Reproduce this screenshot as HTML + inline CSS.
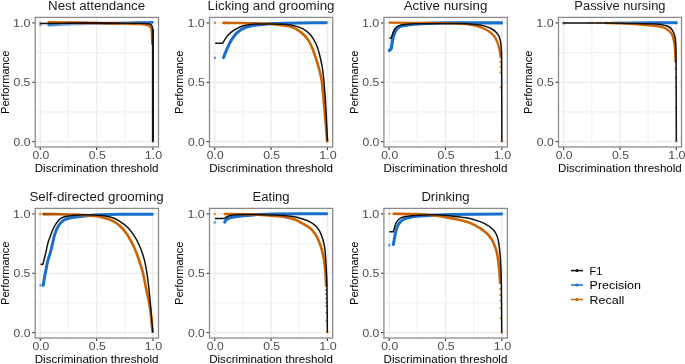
<!DOCTYPE html><html><head><meta charset="utf-8"><style>html,body{margin:0;padding:0;background:#fff;}svg{display:block;}text{font-family:"Liberation Sans", sans-serif;}svg{will-change:transform;}</style></head><body>
<svg width="685" height="364" viewBox="0 0 685 364">
<rect width="685" height="364" fill="#fff"/>
<defs><linearGradient id="p1dark" gradientUnits="userSpaceOnUse" x1="60" y1="0" x2="128" y2="0"><stop offset="0" stop-color="#2a0a00" stop-opacity="0"/><stop offset="0.3" stop-color="#2a0a00" stop-opacity="0.85"/><stop offset="0.7" stop-color="#2a0a00" stop-opacity="0.85"/><stop offset="1" stop-color="#2a0a00" stop-opacity="0"/></linearGradient><linearGradient id="p1blue" gradientUnits="userSpaceOnUse" x1="48" y1="0" x2="153" y2="0"><stop offset="0" stop-color="#1a6fcc" stop-opacity="0.85"/><stop offset="0.3" stop-color="#1a6fcc" stop-opacity="0.35"/><stop offset="0.55" stop-color="#1a6fcc" stop-opacity="0.15"/><stop offset="0.8" stop-color="#1a6fcc" stop-opacity="0.6"/><stop offset="1" stop-color="#1a6fcc" stop-opacity="1"/></linearGradient><linearGradient id="p4blue" gradientUnits="userSpaceOnUse" x1="610" y1="0" x2="650" y2="0"><stop offset="0" stop-color="#1a6fcc" stop-opacity="0.25"/><stop offset="1" stop-color="#1a6fcc" stop-opacity="1"/></linearGradient><linearGradient id="p5or" gradientUnits="userSpaceOnUse" x1="43" y1="0" x2="70" y2="0"><stop offset="0" stop-color="#9a4800"/><stop offset="0.45" stop-color="#b05400"/><stop offset="1" stop-color="#cc6300"/></linearGradient></defs>
<line x1="68.42" y1="17.40" x2="68.42" y2="147.00" stroke="#f1f1f1" stroke-width="1.2"/>
<line x1="35.20" y1="111.97" x2="158.50" y2="111.97" stroke="#f1f1f1" stroke-width="1.2"/>
<line x1="124.77" y1="17.40" x2="124.77" y2="147.00" stroke="#f1f1f1" stroke-width="1.2"/>
<line x1="35.20" y1="52.62" x2="158.50" y2="52.62" stroke="#f1f1f1" stroke-width="1.2"/>
<line x1="40.25" y1="17.40" x2="40.25" y2="147.00" stroke="#ebebeb" stroke-width="1.3"/>
<line x1="35.20" y1="141.65" x2="158.50" y2="141.65" stroke="#ebebeb" stroke-width="1.3"/>
<line x1="96.60" y1="17.40" x2="96.60" y2="147.00" stroke="#ebebeb" stroke-width="1.3"/>
<line x1="35.20" y1="82.30" x2="158.50" y2="82.30" stroke="#ebebeb" stroke-width="1.3"/>
<line x1="152.95" y1="17.40" x2="152.95" y2="147.00" stroke="#ebebeb" stroke-width="1.3"/>
<line x1="35.20" y1="22.95" x2="158.50" y2="22.95" stroke="#ebebeb" stroke-width="1.3"/>
<path d="M48.70,25.00 C50.58,24.93 56.23,24.72 60.00,24.60 C65.22,24.43 73.33,24.22 80.00,24.00 C86.67,23.78 93.33,23.52 100.00,23.30 C106.67,23.08 114.17,22.85 120.00,22.70 C125.00,22.57 130.00,22.46 135.00,22.40 C140.38,22.33 149.42,22.32 152.30,22.30" fill="none" stroke="url(#p1blue)" stroke-width="2.8" stroke-linecap="round" stroke-linejoin="round"/>
<path d="M48.70,22.30 C52.25,22.32 62.90,22.31 70.00,22.40 C77.72,22.50 87.50,22.72 95.00,22.90 C101.67,23.06 109.17,23.33 115.00,23.50 C120.00,23.64 125.83,23.80 130.00,23.90 C133.33,23.98 137.50,24.00 140.00,24.10 C141.67,24.17 143.67,24.32 145.00,24.50 C146.02,24.64 147.17,24.87 148.00,25.20 C148.74,25.50 149.47,25.95 150.00,26.50 C150.53,27.05 150.96,27.76 151.20,28.50 C151.50,29.42 151.69,30.82 151.80,32.00 C151.95,33.58 152.02,36.00 152.10,38.00 C152.18,40.00 152.27,43.00 152.30,44.00" fill="none" stroke="#cc6300" stroke-width="2.4" stroke-linecap="round" stroke-linejoin="round"/>
<circle cx="40.15" cy="22.70" r="1.3" fill="#cc6300" fill-opacity="0.65"/>
<circle cx="152.85" cy="141.65" r="1.3" fill="#cc6300" fill-opacity="0.65"/>
<circle cx="40.40" cy="25.00" r="1.35" fill="#1a6fcc" fill-opacity="0.62"/>
<path d="M40.15,23.40 L47.00,23.40 C54.17,23.38 75.67,23.32 90.00,23.30 C105.50,23.28 130.67,23.28 140.00,23.30 C142.00,23.30 144.50,23.32 146.00,23.40 C147.01,23.46 148.18,23.60 149.00,23.80 C149.67,23.96 150.40,24.23 150.90,24.60 C151.38,24.95 151.76,25.46 152.00,26.00 C152.28,26.65 152.48,27.65 152.60,28.50 C152.74,29.50 152.85,30.83 152.85,32.00 C152.89,50.86 152.85,123.38 152.85,141.65" fill="none" stroke="#111111" stroke-width="1.5" stroke-linecap="butt" stroke-linejoin="round"/>
<path d="M60,23.0 L128,23.2" stroke="url(#p1dark)" stroke-width="2.6" fill="none"/>
<line x1="152.85" y1="29" x2="152.85" y2="141.2" stroke="#111" stroke-width="2.0"/>
<rect x="35.20" y="17.40" width="123.30" height="129.60" fill="none" stroke="#8a8a8a" stroke-width="1.3"/>
<line x1="32.30" y1="141.65" x2="34.60" y2="141.65" stroke="#333333" stroke-width="1.1"/>
<line x1="40.25" y1="147.60" x2="40.25" y2="149.90" stroke="#333333" stroke-width="1.1"/>
<line x1="32.30" y1="82.30" x2="34.60" y2="82.30" stroke="#333333" stroke-width="1.1"/>
<line x1="96.60" y1="147.60" x2="96.60" y2="149.90" stroke="#333333" stroke-width="1.1"/>
<line x1="32.30" y1="22.95" x2="34.60" y2="22.95" stroke="#333333" stroke-width="1.1"/>
<line x1="152.95" y1="147.60" x2="152.95" y2="149.90" stroke="#333333" stroke-width="1.1"/>
<text x="30.40" y="145.70" font-size="11.4" text-anchor="end" fill="#4d4d4d" textLength="16.87" lengthAdjust="spacingAndGlyphs">0.0</text>
<text x="40.85" y="159.30" font-size="11.4" text-anchor="middle" fill="#4d4d4d" textLength="16.87" lengthAdjust="spacingAndGlyphs">0.0</text>
<text x="30.40" y="86.35" font-size="11.4" text-anchor="end" fill="#4d4d4d" textLength="17.00" lengthAdjust="spacingAndGlyphs">0.5</text>
<text x="97.20" y="159.30" font-size="11.4" text-anchor="middle" fill="#4d4d4d" textLength="17.00" lengthAdjust="spacingAndGlyphs">0.5</text>
<text x="30.40" y="27.00" font-size="11.4" text-anchor="end" fill="#4d4d4d" textLength="17.40" lengthAdjust="spacingAndGlyphs">1.0</text>
<text x="153.55" y="159.30" font-size="11.4" text-anchor="middle" fill="#4d4d4d" textLength="17.40" lengthAdjust="spacingAndGlyphs">1.0</text>
<text x="96.60" y="171.50" font-size="10.4" text-anchor="middle" fill="#000" textLength="123.74" lengthAdjust="spacingAndGlyphs">Discrimination threshold</text>
<text x="0.00" y="0.00" font-size="10.4" text-anchor="middle" fill="#000" textLength="63.27" lengthAdjust="spacingAndGlyphs" transform="translate(8.90,82.30) rotate(-90)">Performance</text>
<text x="96.60" y="9.90" font-size="12.5" text-anchor="middle" fill="#1a1a1a" textLength="97.13" lengthAdjust="spacingAndGlyphs">Nest attendance</text>
<line x1="242.87" y1="17.40" x2="242.87" y2="147.00" stroke="#f1f1f1" stroke-width="1.2"/>
<line x1="209.50" y1="111.97" x2="332.70" y2="111.97" stroke="#f1f1f1" stroke-width="1.2"/>
<line x1="299.22" y1="17.40" x2="299.22" y2="147.00" stroke="#f1f1f1" stroke-width="1.2"/>
<line x1="209.50" y1="52.62" x2="332.70" y2="52.62" stroke="#f1f1f1" stroke-width="1.2"/>
<line x1="214.70" y1="17.40" x2="214.70" y2="147.00" stroke="#ebebeb" stroke-width="1.3"/>
<line x1="209.50" y1="141.65" x2="332.70" y2="141.65" stroke="#ebebeb" stroke-width="1.3"/>
<line x1="271.05" y1="17.40" x2="271.05" y2="147.00" stroke="#ebebeb" stroke-width="1.3"/>
<line x1="209.50" y1="82.30" x2="332.70" y2="82.30" stroke="#ebebeb" stroke-width="1.3"/>
<line x1="327.40" y1="17.40" x2="327.40" y2="147.00" stroke="#ebebeb" stroke-width="1.3"/>
<line x1="209.50" y1="22.95" x2="332.70" y2="22.95" stroke="#ebebeb" stroke-width="1.3"/>
<path d="M223.50,57.70 C224.07,56.27 225.65,51.92 226.90,49.10 C228.20,46.18 229.67,42.87 231.30,40.20 C232.85,37.66 234.77,35.03 236.70,33.10 C238.51,31.29 240.59,29.69 242.90,28.60 C245.43,27.40 248.83,26.54 251.90,25.90 C255.18,25.22 259.02,24.87 262.60,24.50 C266.28,24.12 270.19,23.76 274.00,23.60 C280.23,23.33 291.33,23.02 300.00,22.90 C308.72,22.77 321.92,22.86 326.30,22.85" fill="none" stroke="#1a6fcc" stroke-width="3.0" stroke-linecap="round" stroke-linejoin="round"/>
<path d="M223.40,22.90 C226.17,22.92 234.73,22.93 240.00,23.00 C245.00,23.06 250.00,23.14 255.00,23.30 C260.17,23.47 266.50,23.68 271.00,24.00 C274.68,24.26 278.52,24.68 282.00,25.20 C285.32,25.69 288.77,25.95 291.90,27.10 C295.03,28.25 298.13,30.02 300.80,32.10 C303.47,34.18 305.97,36.88 307.90,39.60 C309.81,42.28 311.11,45.37 312.40,48.40 C313.75,51.57 314.90,55.17 316.00,58.60 C317.18,62.30 318.52,66.70 319.50,70.60 C320.45,74.37 321.41,78.15 321.90,82.00 C322.73,88.57 323.66,100.66 324.50,110.00 C325.38,119.87 326.75,136.00 327.20,141.20" fill="none" stroke="#cc6300" stroke-width="2.6" stroke-linecap="round" stroke-linejoin="round"/>
<circle cx="214.90" cy="22.90" r="1.3" fill="#cc6300" fill-opacity="0.65"/>
<circle cx="214.90" cy="57.90" r="1.35" fill="#1a6fcc" fill-opacity="0.62"/>
<path d="M215.20,43.30 L222.50,43.30 C223.23,42.18 225.43,38.45 226.90,36.60 C228.19,34.97 229.68,33.49 231.30,32.20 C233.08,30.78 235.37,29.20 237.60,28.10 C239.83,27.00 242.25,26.15 244.70,25.60 C247.67,24.93 251.81,24.33 255.40,24.10 C259.78,23.82 266.57,23.88 271.00,23.90 C274.67,23.91 278.52,23.98 282.00,24.20 C285.31,24.41 288.66,24.51 291.90,25.20 C295.33,25.93 299.48,26.98 302.60,28.60 C305.61,30.16 308.37,32.37 310.60,34.90 C312.83,37.43 314.57,40.64 316.00,43.80 C317.48,47.07 318.53,50.87 319.50,54.50 C320.53,58.37 321.51,62.79 322.20,67.00 C322.95,71.58 323.56,76.98 324.00,82.00 C324.63,89.17 325.47,100.66 326.00,110.00 C326.57,119.90 327.17,136.17 327.40,141.40" fill="none" stroke="#111111" stroke-width="1.5" stroke-linecap="butt" stroke-linejoin="round"/>
<rect x="209.50" y="17.40" width="123.20" height="129.60" fill="none" stroke="#8a8a8a" stroke-width="1.3"/>
<line x1="206.60" y1="141.65" x2="208.90" y2="141.65" stroke="#333333" stroke-width="1.1"/>
<line x1="214.70" y1="147.60" x2="214.70" y2="149.90" stroke="#333333" stroke-width="1.1"/>
<line x1="206.60" y1="82.30" x2="208.90" y2="82.30" stroke="#333333" stroke-width="1.1"/>
<line x1="271.05" y1="147.60" x2="271.05" y2="149.90" stroke="#333333" stroke-width="1.1"/>
<line x1="206.60" y1="22.95" x2="208.90" y2="22.95" stroke="#333333" stroke-width="1.1"/>
<line x1="327.40" y1="147.60" x2="327.40" y2="149.90" stroke="#333333" stroke-width="1.1"/>
<text x="204.85" y="145.70" font-size="11.4" text-anchor="end" fill="#4d4d4d" textLength="16.87" lengthAdjust="spacingAndGlyphs">0.0</text>
<text x="215.30" y="159.30" font-size="11.4" text-anchor="middle" fill="#4d4d4d" textLength="16.87" lengthAdjust="spacingAndGlyphs">0.0</text>
<text x="204.85" y="86.35" font-size="11.4" text-anchor="end" fill="#4d4d4d" textLength="17.00" lengthAdjust="spacingAndGlyphs">0.5</text>
<text x="271.65" y="159.30" font-size="11.4" text-anchor="middle" fill="#4d4d4d" textLength="17.00" lengthAdjust="spacingAndGlyphs">0.5</text>
<text x="204.85" y="27.00" font-size="11.4" text-anchor="end" fill="#4d4d4d" textLength="17.40" lengthAdjust="spacingAndGlyphs">1.0</text>
<text x="328.00" y="159.30" font-size="11.4" text-anchor="middle" fill="#4d4d4d" textLength="17.40" lengthAdjust="spacingAndGlyphs">1.0</text>
<text x="271.05" y="171.50" font-size="10.4" text-anchor="middle" fill="#000" textLength="123.74" lengthAdjust="spacingAndGlyphs">Discrimination threshold</text>
<text x="0.00" y="0.00" font-size="10.4" text-anchor="middle" fill="#000" textLength="63.27" lengthAdjust="spacingAndGlyphs" transform="translate(183.35,82.30) rotate(-90)">Performance</text>
<text x="271.05" y="9.90" font-size="12.5" text-anchor="middle" fill="#1a1a1a" textLength="126.94" lengthAdjust="spacingAndGlyphs">Licking and grooming</text>
<line x1="417.32" y1="17.40" x2="417.32" y2="147.00" stroke="#f1f1f1" stroke-width="1.2"/>
<line x1="383.90" y1="111.97" x2="507.40" y2="111.97" stroke="#f1f1f1" stroke-width="1.2"/>
<line x1="473.68" y1="17.40" x2="473.68" y2="147.00" stroke="#f1f1f1" stroke-width="1.2"/>
<line x1="383.90" y1="52.62" x2="507.40" y2="52.62" stroke="#f1f1f1" stroke-width="1.2"/>
<line x1="389.15" y1="17.40" x2="389.15" y2="147.00" stroke="#ebebeb" stroke-width="1.3"/>
<line x1="383.90" y1="141.65" x2="507.40" y2="141.65" stroke="#ebebeb" stroke-width="1.3"/>
<line x1="445.50" y1="17.40" x2="445.50" y2="147.00" stroke="#ebebeb" stroke-width="1.3"/>
<line x1="383.90" y1="82.30" x2="507.40" y2="82.30" stroke="#ebebeb" stroke-width="1.3"/>
<line x1="501.85" y1="17.40" x2="501.85" y2="147.00" stroke="#ebebeb" stroke-width="1.3"/>
<line x1="383.90" y1="22.95" x2="507.40" y2="22.95" stroke="#ebebeb" stroke-width="1.3"/>
<path d="M389.40,50.50 C389.70,50.15 390.88,49.26 391.20,48.40 C391.65,47.18 391.80,44.93 392.10,43.20 C392.40,41.45 392.62,39.55 393.00,37.90 C393.36,36.34 393.87,34.63 394.40,33.30 C394.88,32.11 395.52,30.88 396.20,29.90 C396.85,28.97 397.60,28.05 398.50,27.40 C399.40,26.75 400.52,26.33 401.60,26.00 C402.85,25.62 404.52,25.32 406.00,25.10 C408.07,24.80 411.33,24.42 414.00,24.20 C417.60,23.90 423.06,23.46 427.60,23.30 C433.60,23.09 442.53,22.99 450.00,22.95 C462.32,22.89 492.92,22.95 501.50,22.95" fill="none" stroke="#1a6fcc" stroke-width="3.3" stroke-linecap="round" stroke-linejoin="round"/>
<path d="M389.60,22.70 C396.33,22.73 419.93,22.80 430.00,22.90 C436.67,22.97 444.67,23.13 450.00,23.30 C454.00,23.43 458.67,23.68 462.00,23.90 C464.67,24.07 467.62,24.27 470.00,24.60 C472.12,24.90 474.23,25.34 476.30,25.90 C478.38,26.47 480.60,27.22 482.50,28.00 C484.29,28.74 486.06,29.57 487.70,30.60 C489.35,31.63 491.08,32.90 492.40,34.20 C493.65,35.44 494.72,36.92 495.60,38.40 C496.48,39.87 497.11,41.49 497.70,43.10 C498.30,44.75 498.78,46.55 499.20,48.30 C499.63,50.12 500.05,52.55 500.30,54.00 C500.47,54.99 500.63,56.50 500.70,57.00" fill="none" stroke="#cc6300" stroke-width="2.3" stroke-linecap="round" stroke-linejoin="round"/>
<circle cx="500.40" cy="62.00" r="1.0" fill="#cc6300" fill-opacity="0.8"/>
<circle cx="500.50" cy="67.00" r="1.0" fill="#cc6300" fill-opacity="0.8"/>
<circle cx="500.60" cy="72.50" r="1.0" fill="#cc6300" fill-opacity="0.8"/>
<circle cx="500.80" cy="87.60" r="1.0" fill="#cc6300" fill-opacity="0.8"/>
<circle cx="501.85" cy="141.20" r="1.3" fill="#cc6300" fill-opacity="0.65"/>
<path d="M389.50,38.30 L391.00,38.30 C391.18,37.78 391.72,36.23 392.10,35.20 C392.52,34.08 393.05,32.63 393.50,31.60 C393.89,30.71 394.22,29.78 394.80,29.00 C395.45,28.13 396.38,27.05 397.40,26.40 C398.42,25.75 399.69,25.38 400.90,25.10 C402.33,24.77 404.29,24.58 406.00,24.40 C408.18,24.17 411.32,23.78 414.00,23.70 C419.67,23.53 432.00,23.42 440.00,23.40 C447.33,23.38 457.00,23.52 462.00,23.60 C464.67,23.64 467.34,23.71 470.00,23.90 C472.73,24.10 475.78,24.38 478.40,24.80 C480.86,25.19 483.45,25.70 485.70,26.40 C487.84,27.07 490.08,27.95 491.90,29.00 C493.63,30.00 495.38,31.40 496.60,32.70 C497.71,33.88 498.56,35.31 499.20,36.80 C499.87,38.35 500.28,40.23 500.60,42.00 C500.95,43.92 501.14,46.19 501.30,48.30 C501.47,50.47 501.59,52.76 501.60,55.00 C501.69,70.52 501.81,127.00 501.85,141.40" fill="none" stroke="#111111" stroke-width="1.5" stroke-linecap="butt" stroke-linejoin="round"/>
<rect x="383.90" y="17.40" width="123.50" height="129.60" fill="none" stroke="#8a8a8a" stroke-width="1.3"/>
<line x1="381.00" y1="141.65" x2="383.30" y2="141.65" stroke="#333333" stroke-width="1.1"/>
<line x1="389.15" y1="147.60" x2="389.15" y2="149.90" stroke="#333333" stroke-width="1.1"/>
<line x1="381.00" y1="82.30" x2="383.30" y2="82.30" stroke="#333333" stroke-width="1.1"/>
<line x1="445.50" y1="147.60" x2="445.50" y2="149.90" stroke="#333333" stroke-width="1.1"/>
<line x1="381.00" y1="22.95" x2="383.30" y2="22.95" stroke="#333333" stroke-width="1.1"/>
<line x1="501.85" y1="147.60" x2="501.85" y2="149.90" stroke="#333333" stroke-width="1.1"/>
<text x="379.30" y="145.70" font-size="11.4" text-anchor="end" fill="#4d4d4d" textLength="16.87" lengthAdjust="spacingAndGlyphs">0.0</text>
<text x="389.75" y="159.30" font-size="11.4" text-anchor="middle" fill="#4d4d4d" textLength="16.87" lengthAdjust="spacingAndGlyphs">0.0</text>
<text x="379.30" y="86.35" font-size="11.4" text-anchor="end" fill="#4d4d4d" textLength="17.00" lengthAdjust="spacingAndGlyphs">0.5</text>
<text x="446.10" y="159.30" font-size="11.4" text-anchor="middle" fill="#4d4d4d" textLength="17.00" lengthAdjust="spacingAndGlyphs">0.5</text>
<text x="379.30" y="27.00" font-size="11.4" text-anchor="end" fill="#4d4d4d" textLength="17.40" lengthAdjust="spacingAndGlyphs">1.0</text>
<text x="502.45" y="159.30" font-size="11.4" text-anchor="middle" fill="#4d4d4d" textLength="17.40" lengthAdjust="spacingAndGlyphs">1.0</text>
<text x="445.50" y="171.50" font-size="10.4" text-anchor="middle" fill="#000" textLength="123.74" lengthAdjust="spacingAndGlyphs">Discrimination threshold</text>
<text x="0.00" y="0.00" font-size="10.4" text-anchor="middle" fill="#000" textLength="63.27" lengthAdjust="spacingAndGlyphs" transform="translate(357.80,82.30) rotate(-90)">Performance</text>
<text x="445.50" y="9.90" font-size="12.5" text-anchor="middle" fill="#1a1a1a" textLength="83.63" lengthAdjust="spacingAndGlyphs">Active nursing</text>
<line x1="591.77" y1="17.40" x2="591.77" y2="147.00" stroke="#f1f1f1" stroke-width="1.2"/>
<line x1="558.50" y1="111.97" x2="681.50" y2="111.97" stroke="#f1f1f1" stroke-width="1.2"/>
<line x1="648.12" y1="17.40" x2="648.12" y2="147.00" stroke="#f1f1f1" stroke-width="1.2"/>
<line x1="558.50" y1="52.62" x2="681.50" y2="52.62" stroke="#f1f1f1" stroke-width="1.2"/>
<line x1="563.60" y1="17.40" x2="563.60" y2="147.00" stroke="#ebebeb" stroke-width="1.3"/>
<line x1="558.50" y1="141.65" x2="681.50" y2="141.65" stroke="#ebebeb" stroke-width="1.3"/>
<line x1="619.95" y1="17.40" x2="619.95" y2="147.00" stroke="#ebebeb" stroke-width="1.3"/>
<line x1="558.50" y1="82.30" x2="681.50" y2="82.30" stroke="#ebebeb" stroke-width="1.3"/>
<line x1="676.30" y1="17.40" x2="676.30" y2="147.00" stroke="#ebebeb" stroke-width="1.3"/>
<line x1="558.50" y1="22.95" x2="681.50" y2="22.95" stroke="#ebebeb" stroke-width="1.3"/>
<path d="M612.00,22.60 C616.67,22.62 630.67,22.69 640.00,22.70 C650.72,22.72 670.25,22.70 676.30,22.70" fill="none" stroke="url(#p4blue)" stroke-width="3.0" stroke-linecap="round" stroke-linejoin="round"/>
<path d="M606.00,23.00 C608.33,23.05 616.00,23.17 620.00,23.30 C623.34,23.41 626.67,23.60 630.00,23.80 C633.33,24.00 636.87,24.25 640.00,24.50 C642.94,24.73 645.87,25.01 648.80,25.30 C651.88,25.60 655.93,25.88 658.50,26.30 C660.44,26.61 662.45,27.03 664.20,27.80 C665.94,28.56 667.72,29.83 669.00,30.90 C670.13,31.84 671.20,32.91 671.90,34.20 C672.63,35.55 672.99,37.38 673.40,39.00 C673.82,40.63 674.16,42.32 674.40,44.00 C674.67,45.83 674.85,48.00 675.00,50.00 C675.15,52.00 675.22,54.17 675.30,56.00 C675.38,57.67 675.47,60.17 675.50,61.00" fill="none" stroke="#cc6300" stroke-width="2.3" stroke-linecap="round" stroke-linejoin="round"/>
<circle cx="563.60" cy="22.80" r="1.3" fill="#cc6300" fill-opacity="0.65"/>
<circle cx="589.00" cy="23.00" r="1.3" fill="#cc6300" fill-opacity="0.65"/>
<circle cx="592.00" cy="23.00" r="1.3" fill="#cc6300" fill-opacity="0.65"/>
<circle cx="597.50" cy="23.00" r="1.3" fill="#cc6300" fill-opacity="0.65"/>
<circle cx="600.50" cy="23.00" r="1.3" fill="#cc6300" fill-opacity="0.65"/>
<circle cx="604.00" cy="23.00" r="1.3" fill="#cc6300" fill-opacity="0.65"/>
<circle cx="675.30" cy="61.60" r="1.0" fill="#cc6300" fill-opacity="0.8"/>
<circle cx="675.50" cy="68.80" r="1.0" fill="#cc6300" fill-opacity="0.8"/>
<circle cx="675.60" cy="77.50" r="1.0" fill="#cc6300" fill-opacity="0.8"/>
<circle cx="675.70" cy="87.50" r="1.0" fill="#cc6300" fill-opacity="0.8"/>
<circle cx="675.90" cy="107.70" r="1.0" fill="#cc6300" fill-opacity="0.8"/>
<circle cx="676.35" cy="141.20" r="1.3" fill="#cc6300" fill-opacity="0.65"/>
<circle cx="563.60" cy="23.50" r="1.35" fill="#1a6fcc" fill-opacity="0.62"/>
<path d="M563.30,22.95 C569.42,22.96 590.55,22.96 600.00,23.00 C606.67,23.03 613.47,23.10 620.00,23.20 C626.40,23.30 632.80,23.42 639.20,23.60 C645.62,23.78 654.53,24.08 658.50,24.30 C660.01,24.38 661.72,24.67 663.00,24.90 C664.08,25.10 665.20,25.35 666.20,25.70 C667.17,26.04 668.20,26.52 669.00,27.00 C669.73,27.44 670.40,27.99 671.00,28.60 C671.62,29.23 672.23,30.02 672.70,30.80 C673.17,31.58 673.52,32.43 673.80,33.30 C674.23,34.67 675.04,37.05 675.30,39.00 C675.67,41.78 675.96,46.33 676.00,50.00 C676.17,67.05 676.29,126.08 676.35,141.30" fill="none" stroke="#111111" stroke-width="1.5" stroke-linecap="butt" stroke-linejoin="round"/>
<rect x="558.50" y="17.40" width="123.00" height="129.60" fill="none" stroke="#8a8a8a" stroke-width="1.3"/>
<line x1="555.60" y1="141.65" x2="557.90" y2="141.65" stroke="#333333" stroke-width="1.1"/>
<line x1="563.60" y1="147.60" x2="563.60" y2="149.90" stroke="#333333" stroke-width="1.1"/>
<line x1="555.60" y1="82.30" x2="557.90" y2="82.30" stroke="#333333" stroke-width="1.1"/>
<line x1="619.95" y1="147.60" x2="619.95" y2="149.90" stroke="#333333" stroke-width="1.1"/>
<line x1="555.60" y1="22.95" x2="557.90" y2="22.95" stroke="#333333" stroke-width="1.1"/>
<line x1="676.30" y1="147.60" x2="676.30" y2="149.90" stroke="#333333" stroke-width="1.1"/>
<text x="553.75" y="145.70" font-size="11.4" text-anchor="end" fill="#4d4d4d" textLength="16.87" lengthAdjust="spacingAndGlyphs">0.0</text>
<text x="564.20" y="159.30" font-size="11.4" text-anchor="middle" fill="#4d4d4d" textLength="16.87" lengthAdjust="spacingAndGlyphs">0.0</text>
<text x="553.75" y="86.35" font-size="11.4" text-anchor="end" fill="#4d4d4d" textLength="17.00" lengthAdjust="spacingAndGlyphs">0.5</text>
<text x="620.55" y="159.30" font-size="11.4" text-anchor="middle" fill="#4d4d4d" textLength="17.00" lengthAdjust="spacingAndGlyphs">0.5</text>
<text x="553.75" y="27.00" font-size="11.4" text-anchor="end" fill="#4d4d4d" textLength="17.40" lengthAdjust="spacingAndGlyphs">1.0</text>
<text x="676.90" y="159.30" font-size="11.4" text-anchor="middle" fill="#4d4d4d" textLength="17.40" lengthAdjust="spacingAndGlyphs">1.0</text>
<text x="619.95" y="171.50" font-size="10.4" text-anchor="middle" fill="#000" textLength="123.74" lengthAdjust="spacingAndGlyphs">Discrimination threshold</text>
<text x="0.00" y="0.00" font-size="10.4" text-anchor="middle" fill="#000" textLength="63.27" lengthAdjust="spacingAndGlyphs" transform="translate(532.25,82.30) rotate(-90)">Performance</text>
<text x="619.95" y="9.90" font-size="12.5" text-anchor="middle" fill="#1a1a1a" textLength="91.12" lengthAdjust="spacingAndGlyphs">Passive nursing</text>
<line x1="68.42" y1="208.40" x2="68.42" y2="338.00" stroke="#f1f1f1" stroke-width="1.2"/>
<line x1="35.20" y1="302.98" x2="158.50" y2="302.98" stroke="#f1f1f1" stroke-width="1.2"/>
<line x1="124.77" y1="208.40" x2="124.77" y2="338.00" stroke="#f1f1f1" stroke-width="1.2"/>
<line x1="35.20" y1="243.62" x2="158.50" y2="243.62" stroke="#f1f1f1" stroke-width="1.2"/>
<line x1="40.25" y1="208.40" x2="40.25" y2="338.00" stroke="#ebebeb" stroke-width="1.3"/>
<line x1="35.20" y1="332.65" x2="158.50" y2="332.65" stroke="#ebebeb" stroke-width="1.3"/>
<line x1="96.60" y1="208.40" x2="96.60" y2="338.00" stroke="#ebebeb" stroke-width="1.3"/>
<line x1="35.20" y1="273.30" x2="158.50" y2="273.30" stroke="#ebebeb" stroke-width="1.3"/>
<line x1="152.95" y1="208.40" x2="152.95" y2="338.00" stroke="#ebebeb" stroke-width="1.3"/>
<line x1="35.20" y1="213.95" x2="158.50" y2="213.95" stroke="#ebebeb" stroke-width="1.3"/>
<path d="M43.30,285.30 C43.50,283.98 44.05,280.00 44.50,277.40 C44.95,274.82 45.50,272.27 46.00,269.70 C46.52,267.05 47.02,263.88 47.60,261.50 C48.11,259.43 48.90,257.44 49.50,255.40 C50.12,253.28 50.75,250.95 51.30,248.80 C51.83,246.71 52.33,244.52 52.80,242.50 C53.25,240.57 53.57,238.61 54.10,236.70 C54.63,234.78 55.28,232.78 56.00,231.00 C56.69,229.28 57.52,227.45 58.40,226.00 C59.22,224.66 60.27,223.33 61.30,222.30 C62.28,221.32 63.39,220.47 64.60,219.80 C65.83,219.12 67.29,218.59 68.70,218.20 C70.27,217.77 72.22,217.47 74.00,217.20 C76.12,216.88 78.93,216.58 81.40,216.30 C84.07,216.00 87.13,215.63 90.00,215.40 C93.10,215.15 96.66,214.92 100.00,214.80 C105.00,214.62 113.33,214.37 120.00,214.30 C128.72,214.21 146.92,214.26 152.30,214.25" fill="none" stroke="#1a6fcc" stroke-width="3.0" stroke-linecap="round" stroke-linejoin="round"/>
<path d="M43.50,214.10 C46.25,214.12 54.75,214.12 60.00,214.20 C65.00,214.28 70.23,214.38 75.00,214.60 C79.54,214.81 85.27,215.27 88.60,215.50 C90.73,215.65 92.88,215.68 95.00,216.00 C97.55,216.38 100.99,216.96 103.90,217.80 C107.00,218.70 110.80,219.91 113.60,221.40 C116.22,222.79 118.62,224.82 120.70,226.75 C122.72,228.62 124.47,230.78 126.10,233.00 C127.73,235.22 129.17,237.72 130.50,240.10 C131.81,242.44 133.00,244.85 134.10,247.30 C135.30,249.98 136.61,253.19 137.70,256.20 C138.88,259.47 140.32,264.10 141.20,266.90 C141.84,268.92 142.54,270.93 143.00,273.00 C143.82,276.63 145.05,283.47 146.10,288.70 C147.25,294.42 148.97,301.04 149.90,307.30 C150.97,314.45 152.07,327.55 152.50,331.60" fill="none" stroke="url(#p5or)" stroke-width="2.6" stroke-linecap="round" stroke-linejoin="round"/>
<circle cx="40.20" cy="214.10" r="1.3" fill="#cc6300" fill-opacity="0.65"/>
<circle cx="40.60" cy="285.30" r="1.35" fill="#1a6fcc" fill-opacity="0.62"/>
<path d="M40.50,264.30 L42.80,264.40 C43.03,263.53 43.75,260.94 44.20,259.20 C44.68,257.32 45.23,255.14 45.70,253.10 C46.20,250.93 46.73,248.22 47.20,246.20 C47.60,244.46 48.00,242.58 48.50,241.00 C48.96,239.53 49.67,238.15 50.20,236.70 C50.82,235.03 51.45,232.78 52.20,231.00 C52.92,229.28 53.80,227.58 54.70,226.00 C55.58,224.45 56.63,222.73 57.60,221.50 C58.44,220.42 59.47,219.35 60.50,218.60 C61.49,217.88 62.63,217.37 63.80,217.00 C65.17,216.57 67.06,216.27 68.70,216.00 C70.40,215.72 72.22,215.43 74.00,215.30 C76.72,215.10 81.50,214.83 85.00,214.80 C88.33,214.77 91.67,214.91 95.00,215.10 C98.45,215.30 102.32,215.40 105.70,216.00 C108.97,216.58 112.50,217.50 115.30,218.70 C117.90,219.81 120.27,221.57 122.50,223.20 C124.69,224.80 126.85,226.51 128.70,228.50 C130.63,230.58 132.46,233.19 134.10,235.70 C135.75,238.23 137.29,240.93 138.60,243.70 C139.93,246.52 141.07,249.62 142.10,252.60 C143.13,255.56 144.08,258.55 144.80,261.60 C145.60,265.00 146.32,269.18 146.90,273.00 C147.58,277.52 148.32,283.46 148.90,288.70 C149.53,294.42 150.14,301.10 150.70,307.30 C151.36,314.60 152.49,328.30 152.85,332.50" fill="none" stroke="#111111" stroke-width="1.5" stroke-linecap="butt" stroke-linejoin="round"/>
<rect x="35.20" y="208.40" width="123.30" height="129.60" fill="none" stroke="#8a8a8a" stroke-width="1.3"/>
<line x1="32.30" y1="332.65" x2="34.60" y2="332.65" stroke="#333333" stroke-width="1.1"/>
<line x1="40.25" y1="338.60" x2="40.25" y2="340.90" stroke="#333333" stroke-width="1.1"/>
<line x1="32.30" y1="273.30" x2="34.60" y2="273.30" stroke="#333333" stroke-width="1.1"/>
<line x1="96.60" y1="338.60" x2="96.60" y2="340.90" stroke="#333333" stroke-width="1.1"/>
<line x1="32.30" y1="213.95" x2="34.60" y2="213.95" stroke="#333333" stroke-width="1.1"/>
<line x1="152.95" y1="338.60" x2="152.95" y2="340.90" stroke="#333333" stroke-width="1.1"/>
<text x="30.40" y="336.70" font-size="11.4" text-anchor="end" fill="#4d4d4d" textLength="16.87" lengthAdjust="spacingAndGlyphs">0.0</text>
<text x="40.85" y="350.30" font-size="11.4" text-anchor="middle" fill="#4d4d4d" textLength="16.87" lengthAdjust="spacingAndGlyphs">0.0</text>
<text x="30.40" y="277.35" font-size="11.4" text-anchor="end" fill="#4d4d4d" textLength="17.00" lengthAdjust="spacingAndGlyphs">0.5</text>
<text x="97.20" y="350.30" font-size="11.4" text-anchor="middle" fill="#4d4d4d" textLength="17.00" lengthAdjust="spacingAndGlyphs">0.5</text>
<text x="30.40" y="218.00" font-size="11.4" text-anchor="end" fill="#4d4d4d" textLength="17.40" lengthAdjust="spacingAndGlyphs">1.0</text>
<text x="153.55" y="350.30" font-size="11.4" text-anchor="middle" fill="#4d4d4d" textLength="17.40" lengthAdjust="spacingAndGlyphs">1.0</text>
<text x="96.60" y="362.50" font-size="10.4" text-anchor="middle" fill="#000" textLength="123.74" lengthAdjust="spacingAndGlyphs">Discrimination threshold</text>
<text x="0.00" y="0.00" font-size="10.4" text-anchor="middle" fill="#000" textLength="63.27" lengthAdjust="spacingAndGlyphs" transform="translate(8.90,273.30) rotate(-90)">Performance</text>
<text x="96.60" y="200.90" font-size="12.5" text-anchor="middle" fill="#1a1a1a" textLength="134.30" lengthAdjust="spacingAndGlyphs">Self-directed grooming</text>
<line x1="242.87" y1="208.40" x2="242.87" y2="338.00" stroke="#f1f1f1" stroke-width="1.2"/>
<line x1="209.50" y1="302.98" x2="332.70" y2="302.98" stroke="#f1f1f1" stroke-width="1.2"/>
<line x1="299.22" y1="208.40" x2="299.22" y2="338.00" stroke="#f1f1f1" stroke-width="1.2"/>
<line x1="209.50" y1="243.62" x2="332.70" y2="243.62" stroke="#f1f1f1" stroke-width="1.2"/>
<line x1="214.70" y1="208.40" x2="214.70" y2="338.00" stroke="#ebebeb" stroke-width="1.3"/>
<line x1="209.50" y1="332.65" x2="332.70" y2="332.65" stroke="#ebebeb" stroke-width="1.3"/>
<line x1="271.05" y1="208.40" x2="271.05" y2="338.00" stroke="#ebebeb" stroke-width="1.3"/>
<line x1="209.50" y1="273.30" x2="332.70" y2="273.30" stroke="#ebebeb" stroke-width="1.3"/>
<line x1="327.40" y1="208.40" x2="327.40" y2="338.00" stroke="#ebebeb" stroke-width="1.3"/>
<line x1="209.50" y1="213.95" x2="332.70" y2="213.95" stroke="#ebebeb" stroke-width="1.3"/>
<path d="M224.60,222.20 C225.07,221.65 226.15,219.62 227.40,218.90 C228.92,218.03 231.55,217.42 233.70,217.00 C236.33,216.48 240.03,216.14 243.20,215.80 C246.98,215.40 251.99,214.87 256.40,214.60 C261.53,214.28 268.13,213.97 274.00,213.90 C285.70,213.77 317.83,213.82 326.60,213.80" fill="none" stroke="#1a6fcc" stroke-width="3.0" stroke-linecap="round" stroke-linejoin="round"/>
<path d="M224.80,214.00 C229.00,214.05 241.80,213.97 250.00,214.30 C258.01,214.63 268.08,215.52 274.00,216.00 C277.84,216.31 282.03,216.63 285.50,217.20 C288.64,217.71 292.38,218.57 294.80,219.40 C296.66,220.04 298.30,221.30 300.00,222.20 C301.66,223.08 303.38,223.86 305.00,224.80 C306.67,225.77 308.68,226.97 310.00,228.00 C311.09,228.86 312.05,229.90 312.90,231.00 C314.05,232.48 315.76,234.82 316.90,236.90 C318.07,239.03 319.04,241.44 319.90,243.80 C320.80,246.27 321.65,249.02 322.30,251.70 C323.03,254.73 323.78,258.62 324.30,262.00 C324.81,265.32 325.13,268.66 325.40,272.00 C325.68,275.57 325.88,281.12 326.00,283.40 C326.04,284.17 326.08,285.32 326.10,285.70" fill="none" stroke="#cc6300" stroke-width="2.6" stroke-linecap="round" stroke-linejoin="round"/>
<circle cx="214.90" cy="214.00" r="1.3" fill="#cc6300" fill-opacity="0.65"/>
<circle cx="325.80" cy="290.00" r="1.0" fill="#cc6300" fill-opacity="0.8"/>
<circle cx="325.90" cy="294.30" r="1.0" fill="#cc6300" fill-opacity="0.8"/>
<circle cx="326.00" cy="298.50" r="1.0" fill="#cc6300" fill-opacity="0.8"/>
<circle cx="326.10" cy="302.80" r="1.0" fill="#cc6300" fill-opacity="0.8"/>
<circle cx="326.10" cy="306.00" r="1.0" fill="#cc6300" fill-opacity="0.8"/>
<circle cx="326.20" cy="312.50" r="1.0" fill="#cc6300" fill-opacity="0.8"/>
<circle cx="326.40" cy="321.00" r="1.0" fill="#cc6300" fill-opacity="0.8"/>
<circle cx="327.20" cy="331.90" r="1.3" fill="#cc6300" fill-opacity="0.65"/>
<circle cx="214.90" cy="222.40" r="1.35" fill="#1a6fcc" fill-opacity="0.62"/>
<path d="M214.90,218.40 L224.70,218.40 C225.25,218.05 226.76,216.71 228.00,216.30 C229.82,215.70 233.03,215.04 235.60,214.80 C238.77,214.50 243.20,214.48 247.00,214.50 C253.40,214.53 266.62,214.70 274.00,215.00 C279.78,215.23 286.50,215.63 291.30,216.30 C295.20,216.84 299.53,217.98 302.80,219.00 C305.60,219.87 308.58,221.07 310.90,222.40 C313.04,223.63 315.17,225.37 316.70,227.00 C318.12,228.51 319.15,230.37 320.10,232.20 C321.05,234.03 321.76,236.02 322.40,238.00 C323.08,240.12 323.77,242.90 324.20,244.90 C324.56,246.58 324.84,248.29 325.00,250.00 C325.32,253.43 325.81,260.33 326.10,265.50 C326.42,271.07 326.79,277.43 326.90,283.40 C327.11,294.57 327.28,324.32 327.35,332.50" fill="none" stroke="#111111" stroke-width="1.5" stroke-linecap="butt" stroke-linejoin="round"/>
<rect x="209.50" y="208.40" width="123.20" height="129.60" fill="none" stroke="#8a8a8a" stroke-width="1.3"/>
<line x1="206.60" y1="332.65" x2="208.90" y2="332.65" stroke="#333333" stroke-width="1.1"/>
<line x1="214.70" y1="338.60" x2="214.70" y2="340.90" stroke="#333333" stroke-width="1.1"/>
<line x1="206.60" y1="273.30" x2="208.90" y2="273.30" stroke="#333333" stroke-width="1.1"/>
<line x1="271.05" y1="338.60" x2="271.05" y2="340.90" stroke="#333333" stroke-width="1.1"/>
<line x1="206.60" y1="213.95" x2="208.90" y2="213.95" stroke="#333333" stroke-width="1.1"/>
<line x1="327.40" y1="338.60" x2="327.40" y2="340.90" stroke="#333333" stroke-width="1.1"/>
<text x="204.85" y="336.70" font-size="11.4" text-anchor="end" fill="#4d4d4d" textLength="16.87" lengthAdjust="spacingAndGlyphs">0.0</text>
<text x="215.30" y="350.30" font-size="11.4" text-anchor="middle" fill="#4d4d4d" textLength="16.87" lengthAdjust="spacingAndGlyphs">0.0</text>
<text x="204.85" y="277.35" font-size="11.4" text-anchor="end" fill="#4d4d4d" textLength="17.00" lengthAdjust="spacingAndGlyphs">0.5</text>
<text x="271.65" y="350.30" font-size="11.4" text-anchor="middle" fill="#4d4d4d" textLength="17.00" lengthAdjust="spacingAndGlyphs">0.5</text>
<text x="204.85" y="218.00" font-size="11.4" text-anchor="end" fill="#4d4d4d" textLength="17.40" lengthAdjust="spacingAndGlyphs">1.0</text>
<text x="328.00" y="350.30" font-size="11.4" text-anchor="middle" fill="#4d4d4d" textLength="17.40" lengthAdjust="spacingAndGlyphs">1.0</text>
<text x="271.05" y="362.50" font-size="10.4" text-anchor="middle" fill="#000" textLength="123.74" lengthAdjust="spacingAndGlyphs">Discrimination threshold</text>
<text x="0.00" y="0.00" font-size="10.4" text-anchor="middle" fill="#000" textLength="63.27" lengthAdjust="spacingAndGlyphs" transform="translate(183.35,273.30) rotate(-90)">Performance</text>
<text x="271.05" y="200.90" font-size="12.5" text-anchor="middle" fill="#1a1a1a" textLength="37.10" lengthAdjust="spacingAndGlyphs">Eating</text>
<line x1="417.32" y1="208.40" x2="417.32" y2="338.00" stroke="#f1f1f1" stroke-width="1.2"/>
<line x1="383.90" y1="302.98" x2="507.40" y2="302.98" stroke="#f1f1f1" stroke-width="1.2"/>
<line x1="473.68" y1="208.40" x2="473.68" y2="338.00" stroke="#f1f1f1" stroke-width="1.2"/>
<line x1="383.90" y1="243.62" x2="507.40" y2="243.62" stroke="#f1f1f1" stroke-width="1.2"/>
<line x1="389.15" y1="208.40" x2="389.15" y2="338.00" stroke="#ebebeb" stroke-width="1.3"/>
<line x1="383.90" y1="332.65" x2="507.40" y2="332.65" stroke="#ebebeb" stroke-width="1.3"/>
<line x1="445.50" y1="208.40" x2="445.50" y2="338.00" stroke="#ebebeb" stroke-width="1.3"/>
<line x1="383.90" y1="273.30" x2="507.40" y2="273.30" stroke="#ebebeb" stroke-width="1.3"/>
<line x1="501.85" y1="208.40" x2="501.85" y2="338.00" stroke="#ebebeb" stroke-width="1.3"/>
<line x1="383.90" y1="213.95" x2="507.40" y2="213.95" stroke="#ebebeb" stroke-width="1.3"/>
<path d="M393.40,244.40 C393.58,243.33 394.12,240.03 394.50,238.00 C394.87,236.06 395.22,234.11 395.70,232.20 C396.18,230.28 396.63,228.22 397.40,226.50 C398.14,224.84 399.13,223.15 400.30,221.90 C401.44,220.68 402.87,219.69 404.40,219.00 C406.13,218.22 408.55,217.60 410.70,217.20 C413.30,216.72 416.89,216.38 420.00,216.10 C423.72,215.77 428.66,215.45 433.00,215.20 C438.00,214.92 444.33,214.50 450.00,214.40 C461.43,214.20 493.00,214.07 501.60,214.00" fill="none" stroke="#1a6fcc" stroke-width="3.0" stroke-linecap="round" stroke-linejoin="round"/>
<path d="M393.70,213.80 C398.08,213.88 413.45,214.05 420.00,214.30 C424.34,214.47 429.67,214.97 433.00,215.30 C435.35,215.53 437.67,215.93 440.00,216.30 C442.33,216.67 444.67,217.08 447.00,217.50 C449.50,217.95 452.50,218.48 455.00,219.00 C457.34,219.48 459.68,220.00 462.00,220.60 C464.50,221.25 467.67,222.03 470.00,222.90 C472.08,223.67 474.33,224.92 476.00,225.80 C477.37,226.53 478.70,227.34 480.00,228.20 C481.33,229.08 482.72,230.06 484.00,231.10 C485.40,232.23 487.12,233.62 488.40,235.00 C489.65,236.34 490.75,237.83 491.70,239.40 C492.70,241.05 493.63,243.07 494.40,244.90 C495.15,246.69 495.79,248.53 496.30,250.40 C496.85,252.42 497.32,254.78 497.70,257.00 C498.08,259.27 498.32,261.67 498.60,264.00 C498.88,266.33 499.20,268.66 499.40,271.00 C499.62,273.50 499.78,277.00 499.90,279.00 C499.98,280.33 500.07,282.33 500.10,283.00" fill="none" stroke="#cc6300" stroke-width="2.6" stroke-linecap="round" stroke-linejoin="round"/>
<circle cx="389.35" cy="213.80" r="1.3" fill="#cc6300" fill-opacity="0.65"/>
<circle cx="500.10" cy="289.00" r="1.0" fill="#cc6300" fill-opacity="0.8"/>
<circle cx="500.20" cy="295.00" r="1.0" fill="#cc6300" fill-opacity="0.8"/>
<circle cx="500.30" cy="300.80" r="1.0" fill="#cc6300" fill-opacity="0.8"/>
<circle cx="500.50" cy="308.30" r="1.0" fill="#cc6300" fill-opacity="0.8"/>
<circle cx="500.70" cy="318.20" r="1.0" fill="#cc6300" fill-opacity="0.8"/>
<circle cx="501.75" cy="332.60" r="1.3" fill="#cc6300" fill-opacity="0.65"/>
<circle cx="389.35" cy="245.20" r="1.35" fill="#1a6fcc" fill-opacity="0.62"/>
<path d="M389.35,231.70 L393.40,231.70 C393.58,231.02 394.08,228.95 394.50,227.60 C394.98,226.05 395.52,223.83 396.30,222.40 C397.01,221.09 398.05,219.90 399.20,219.00 C400.35,218.10 401.77,217.43 403.20,217.00 C404.93,216.48 407.45,216.12 409.60,215.90 C412.58,215.60 417.26,215.40 421.10,215.20 C425.00,215.00 429.03,214.67 433.00,214.70 C437.37,214.73 442.55,214.97 447.30,215.40 C452.07,215.83 457.82,216.78 461.60,217.30 C464.40,217.68 467.25,217.86 470.00,218.50 C473.07,219.22 477.58,220.75 480.00,221.60 C481.55,222.14 483.04,222.85 484.50,223.60 C486.08,224.42 487.95,225.35 489.50,226.50 C491.07,227.67 492.72,229.18 493.90,230.60 C495.00,231.92 495.90,233.43 496.60,235.00 C497.33,236.65 497.90,238.62 498.30,240.50 C498.77,242.70 499.09,245.63 499.40,248.20 C499.73,250.95 500.08,254.37 500.30,257.00 C500.49,259.33 500.59,261.67 500.70,264.00 C500.87,267.47 501.23,273.20 501.30,277.80 C501.48,289.23 501.68,323.47 501.75,332.60" fill="none" stroke="#111111" stroke-width="1.5" stroke-linecap="butt" stroke-linejoin="round"/>
<rect x="383.90" y="208.40" width="123.50" height="129.60" fill="none" stroke="#8a8a8a" stroke-width="1.3"/>
<line x1="381.00" y1="332.65" x2="383.30" y2="332.65" stroke="#333333" stroke-width="1.1"/>
<line x1="389.15" y1="338.60" x2="389.15" y2="340.90" stroke="#333333" stroke-width="1.1"/>
<line x1="381.00" y1="273.30" x2="383.30" y2="273.30" stroke="#333333" stroke-width="1.1"/>
<line x1="445.50" y1="338.60" x2="445.50" y2="340.90" stroke="#333333" stroke-width="1.1"/>
<line x1="381.00" y1="213.95" x2="383.30" y2="213.95" stroke="#333333" stroke-width="1.1"/>
<line x1="501.85" y1="338.60" x2="501.85" y2="340.90" stroke="#333333" stroke-width="1.1"/>
<text x="379.30" y="336.70" font-size="11.4" text-anchor="end" fill="#4d4d4d" textLength="16.87" lengthAdjust="spacingAndGlyphs">0.0</text>
<text x="389.75" y="350.30" font-size="11.4" text-anchor="middle" fill="#4d4d4d" textLength="16.87" lengthAdjust="spacingAndGlyphs">0.0</text>
<text x="379.30" y="277.35" font-size="11.4" text-anchor="end" fill="#4d4d4d" textLength="17.00" lengthAdjust="spacingAndGlyphs">0.5</text>
<text x="446.10" y="350.30" font-size="11.4" text-anchor="middle" fill="#4d4d4d" textLength="17.00" lengthAdjust="spacingAndGlyphs">0.5</text>
<text x="379.30" y="218.00" font-size="11.4" text-anchor="end" fill="#4d4d4d" textLength="17.40" lengthAdjust="spacingAndGlyphs">1.0</text>
<text x="502.45" y="350.30" font-size="11.4" text-anchor="middle" fill="#4d4d4d" textLength="17.40" lengthAdjust="spacingAndGlyphs">1.0</text>
<text x="445.50" y="362.50" font-size="10.4" text-anchor="middle" fill="#000" textLength="123.74" lengthAdjust="spacingAndGlyphs">Discrimination threshold</text>
<text x="0.00" y="0.00" font-size="10.4" text-anchor="middle" fill="#000" textLength="63.27" lengthAdjust="spacingAndGlyphs" transform="translate(357.80,273.30) rotate(-90)">Performance</text>
<text x="445.50" y="200.90" font-size="12.5" text-anchor="middle" fill="#1a1a1a" textLength="48.25" lengthAdjust="spacingAndGlyphs">Drinking</text>
<line x1="571" y1="270.6" x2="583" y2="270.6" stroke="#111111" stroke-width="1.5"/>
<circle cx="577" cy="270.6" r="1.5" fill="#111111"/>
<text x="589.60" y="275.00" font-size="11.5" text-anchor="start" fill="#000" textLength="12.68" lengthAdjust="spacingAndGlyphs">F1</text>
<line x1="571" y1="285.0" x2="583" y2="285.0" stroke="#1a6fcc" stroke-width="1.5"/>
<circle cx="577" cy="285.0" r="1.5" fill="#1a6fcc"/>
<text x="589.60" y="289.40" font-size="11.5" text-anchor="start" fill="#000" textLength="51.39" lengthAdjust="spacingAndGlyphs">Precision</text>
<line x1="571" y1="299.5" x2="583" y2="299.5" stroke="#cc6300" stroke-width="1.5"/>
<circle cx="577" cy="299.5" r="1.5" fill="#cc6300"/>
<text x="589.60" y="303.90" font-size="11.5" text-anchor="start" fill="#000" textLength="34.72" lengthAdjust="spacingAndGlyphs">Recall</text>
</svg></body></html>
